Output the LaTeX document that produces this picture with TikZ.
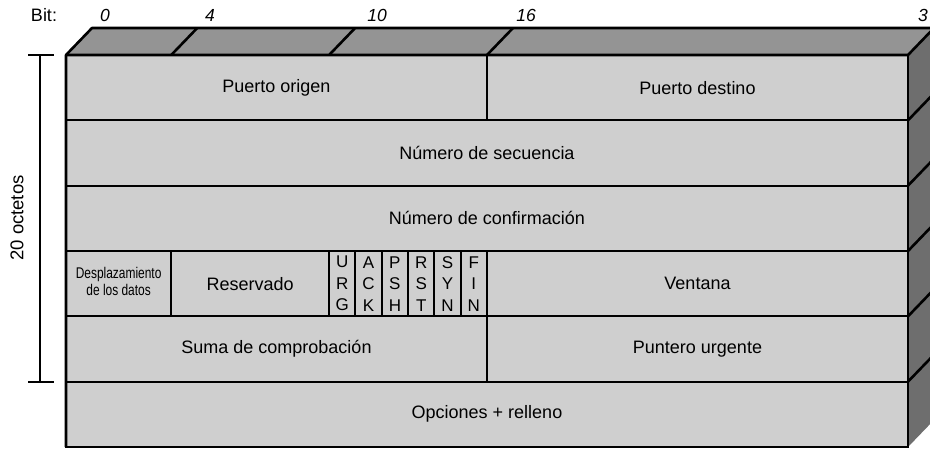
\documentclass[tikz,border=0pt]{standalone}
\usepackage{fontspec}
\setmainfont{Liberation Sans}
\usetikzlibrary{positioning,calc}
\definecolor{facefront}{gray}{0.81}
\definecolor{facetop}{gray}{0.58}
\definecolor{faceside}{gray}{0.43}

\begin{document}
\begin{tikzpicture}[
        x=1pt, y=-1pt,
        every node/.style={font=\fontsize{18}{20}\selectfont, inner sep=0pt},
        edge/.style={draw=black, line width=2.6pt, line join=round},
        field/.style={draw=black, line width=2.3pt, minimum height=65.33pt},
        flagbox/.style={field, line width=1.9pt, minimum width=26.31pt, align=center,
                font=\fontsize{17}{21.5}\selectfont},
        bitlab/.style={font=\fontsize{17.5}{19}\selectfont\itshape},
        brace/.style={draw=black, line width=1.8pt}
    ]
    \useasboundingbox (0,0) rectangle (930,448);
    \def\bw{26.3125}

    % =============== caras del bloque ===============
    \fill[facetop] (66,55) -- (92,28) -- (934,28) -- (908,55) -- cycle;
    \fill[faceside] (908,55) -- (934,28) -- (934,420) -- (908,447) -- cycle;
    \fill[facefront] (66,55) rectangle (908,447);
    \foreach \b in {4,10,16}
        \draw[edge] ({66+\bw*\b},55) -- ++(26,-27);
    \foreach \r in {1,...,5}
        \draw[edge] (908,{55+65.33*\r}) -- ++(26,-27);
    \draw[edge] (66,447) -- (66,55) -- (92,28) -- (934,28);
    \draw[edge] (66,55) -- (908,55) -- (934,28);
    \draw[edge] (908,55) -- (908,447);

    % =============== campos de la cabecera ===============
    \node[field, minimum width=421pt] (srcport) at ({66+\bw*8},87.67) {Puerto origen};
    \node[field, minimum width=421pt] (dstport) at ({66+\bw*24},87.67) {Puerto destino};
    \node[field, minimum width=842pt] (seqnum) at (487,153) {Número de secuencia};
    \node[field, minimum width=842pt] (acknum) at (487,218.33) {Número de confirmación};

    \node[field, minimum width=105.25pt] (offset) at ({66+\bw*2},283.67)
        {\scalebox{0.77}[1]{\fontsize{15.5}{16.5}\selectfont
            \begin{tabular}{@{}c@{}}Desplazamiento\\de los datos\end{tabular}}};
    \node[field, minimum width=157.9pt] (reserved) at ({66+\bw*7},283.67) {Reservado};
    \foreach \a/\b/\c [count=\k from 0] in {U/R/G, A/C/K, P/S/H, R/S/T, S/Y/N, F/I/N}
        \node[flagbox] (flag\k) at ({66+\bw*(10.5+\k)},283.67) {\a\\\b\\\c};
    \node[field, minimum width=421pt] (window) at ({66+\bw*24},283.67) {Ventana};

    \node[field, minimum width=421pt] (checksum) at ({66+\bw*8},349) {Suma de comprobación};
    \node[field, minimum width=421pt] (urgent) at ({66+\bw*24},349) {Puntero urgente};
    \node[field, minimum width=842pt] (options) at (487,414.33) {Opciones + relleno};

    % =============== numeracion de bits ===============
    \node (bitword) at (44,15) {Bit:};
    \node[bitlab] (bit0) at (105,15) {0};
    \node[bitlab] (bit4) at (210,15) {4};
    \node[bitlab] (bit10) at (377,15) {10};
    \node[bitlab] (bit16) at (526,15) {16};
    \node[bitlab] (bit31) at (923,15) {3};

    % =============== 20 octetos ===============
    \coordinate (brtop) at (40,55);
    \coordinate (brbot) at (40,382);
    \draw[brace] (brtop) -- (brbot);
    \draw[brace] ($(brtop)+(-12,0)$) -- ($(brtop)+(14,0)$);
    \draw[brace] ($(brbot)+(-12,0)$) -- ($(brbot)+(14,0)$);
    \node[rotate=90, font=\fontsize{18.5}{20}\selectfont] (octets) at (17,218) {20 octetos};

\end{tikzpicture}
\end{document}
